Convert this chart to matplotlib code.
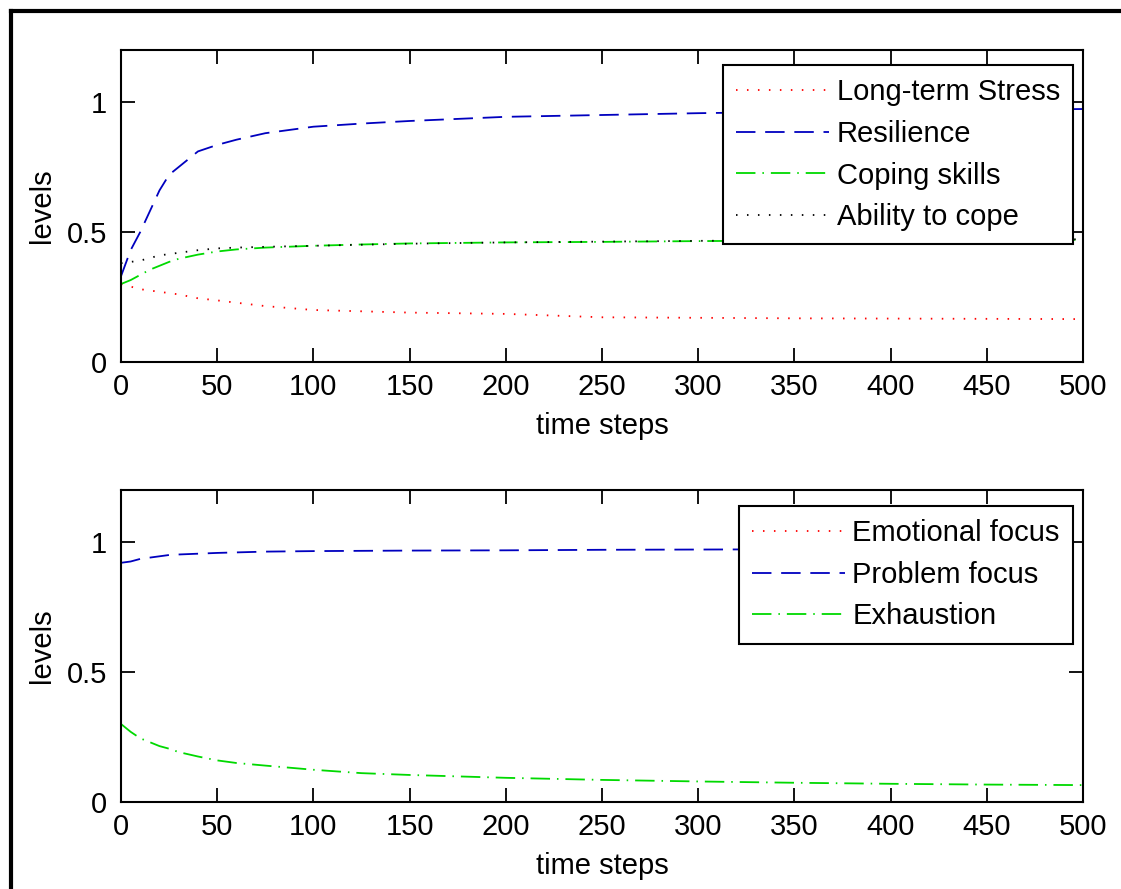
import numpy as np
import matplotlib
matplotlib.use("Agg")
import matplotlib.pyplot as plt
from matplotlib.lines import Line2D

# ---------------- data ----------------
t = [0, 5, 10, 15, 20, 25, 30, 40, 50, 60, 75, 100, 125, 150, 200, 250, 300, 350, 400, 450, 500]

long_term_stress = [0.30, 0.29, 0.28, 0.275, 0.27, 0.265, 0.26, 0.245, 0.237, 0.228, 0.215, 0.20,
                    0.195, 0.19, 0.185, 0.172, 0.17, 0.168, 0.167, 0.166, 0.165]
resilience = [0.33, 0.43, 0.50, 0.58, 0.66, 0.72, 0.75, 0.81, 0.835, 0.855, 0.88, 0.905,
              0.917, 0.927, 0.943, 0.95, 0.957, 0.962, 0.966, 0.97, 0.973]
coping_skills = [0.30, 0.315, 0.335, 0.355, 0.37, 0.385, 0.397, 0.413, 0.425, 0.433, 0.44, 0.447,
                 0.452, 0.456, 0.46, 0.462, 0.465, 0.467, 0.468, 0.469, 0.47]
ability_to_cope = [0.38, 0.385, 0.39, 0.40, 0.41, 0.415, 0.42, 0.43, 0.437, 0.44, 0.443, 0.447,
                   0.451, 0.455, 0.46, 0.463, 0.466, 0.468, 0.469, 0.47, 0.472]

problem_focus = [0.92, 0.925, 0.935, 0.94, 0.945, 0.95, 0.952, 0.955, 0.958, 0.96, 0.963, 0.965,
                 0.966, 0.967, 0.968, 0.97, 0.971, 0.972, 0.972, 0.973, 0.973]
# Emotional focus is listed in the legend but its line is not visible in the reference
emotional_focus = [np.nan] * len(t)
exhaustion = [0.30, 0.27, 0.245, 0.23, 0.215, 0.205, 0.192, 0.175, 0.16, 0.15, 0.14, 0.124,
              0.111, 0.104, 0.093, 0.085, 0.079, 0.074, 0.07, 0.067, 0.065]

top_labels = ["Long-term Stress", "Resilience", "Coping skills", "Ability to cope"]
bottom_labels = ["Emotional focus", "Problem focus", "Exhaustion"]
x_ticks = [0, 50, 100, 150, 200, 250, 300, 350, 400, 450, 500]
y_ticks = [0, 0.5, 1]
y_ticklabels = ["0", "0.5", "1"]

# ---------------- style ----------------
plt.rcParams['font.family'] = ['Liberation Sans', 'DejaVu Sans']
plt.rcParams['lines.scale_dashes'] = False
FS = 21

W, H = 1121, 889
fig = plt.figure(figsize=(W / 100, H / 100), dpi=100)

def px_axes(left, top, right, bottom):
    return fig.add_axes([left / W, 1 - bottom / H, (right - left) / W, (bottom - top) / H])

ax1 = px_axes(121, 50, 1083, 362)
ax2 = px_axes(121, 490, 1083, 802)

dotted = (0, (1.1, 6.8))
dashed = (0, (14, 7))
dashdot = (0, (14, 5, 1.1, 5))
LW = 1.3

ax1.plot(t, long_term_stress, color=(1, 0, 0), linestyle=dotted, lw=LW, label=top_labels[0])
ax1.plot(t, resilience, color=(0, 0, 0.75), linestyle=dashed, lw=LW, label=top_labels[1])
ax1.plot(t, coping_skills, color=(0, 0.85, 0), linestyle=dashdot, lw=LW, label=top_labels[2])
ax1.plot(t, ability_to_cope, color='black', linestyle=dotted, lw=LW, label=top_labels[3])

ax2.plot(t, emotional_focus, color=(1, 0, 0), linestyle=dotted, lw=LW, label=bottom_labels[0])
ax2.plot(t, problem_focus, color=(0, 0, 0.75), linestyle=dashed, lw=LW, label=bottom_labels[1])
ax2.plot(t, exhaustion, color=(0, 0.85, 0), linestyle=dashdot, lw=LW, label=bottom_labels[2])

for ax, leg_y in ((ax1, 0.952), (ax2, 0.949)):
    ax.set_xlim(0, 500)
    ax.set_ylim(0, 1.2)
    ax.set_xticks(x_ticks)
    ax.set_yticks(y_ticks)
    ax.set_yticklabels(y_ticklabels)
    ax.tick_params(direction='in', length=10, width=1.3, top=True, right=True,
                   labelsize=FS, pad=8, colors='black')
    ax.tick_params(axis='y', pad=10)
    for s in ax.spines.values():
        s.set_linewidth(1.5)
    ax.set_xlabel("time steps", fontsize=FS, labelpad=8)
    ax.set_ylabel("levels", fontsize=FS, labelpad=8)
    leg = ax.legend(loc='upper right', bbox_to_anchor=(0.9896, leg_y), borderaxespad=0,
                    fontsize=FS, frameon=True, fancybox=False, shadow=False,
                    edgecolor='black', framealpha=1, handlelength=3.2, handletextpad=0.25,
                    labelspacing=0.47, borderpad=0.45)
    leg.get_frame().set_linewidth(1.5)

# outer frame (left and top thick black lines)
fig.add_artist(Line2D([10.5 / W, 10.5 / W], [0, 1 - 11 / H], color='black', lw=3,
                      transform=fig.transFigure, solid_capstyle='projecting'))
fig.add_artist(Line2D([10.5 / W, 1], [1 - 11 / H, 1 - 11 / H], color='black', lw=3,
                      transform=fig.transFigure, solid_capstyle='projecting'))

fig.savefig("out.png", dpi=100)
